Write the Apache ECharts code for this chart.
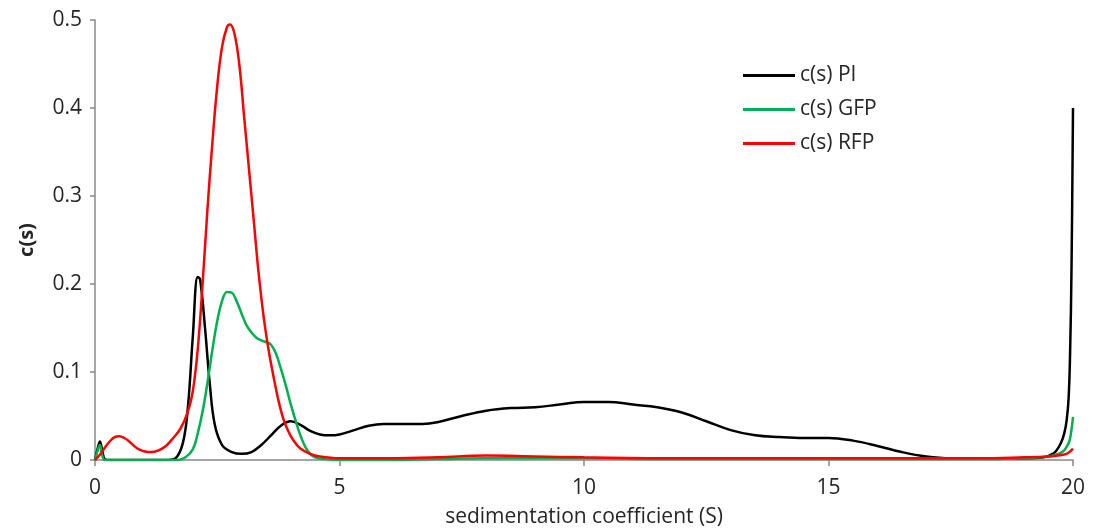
<!DOCTYPE html>
<html>
<head>
<meta charset="utf-8">
<script src="https://cdn.jsdelivr.net/npm/echarts@6/dist/echarts.min.js"></script>
<style>
html,body{margin:0;padding:0;background:#fff;}
#chart{width:1098px;height:529px;}
</style>
</head>
<body>
<div id="chart"></div>
<script>
const seriesNames = ['c(s) PI', 'c(s) GFP', 'c(s) RFP'];
const xTitle = 'sedimentation coefficient (S)';
const yTitle = 'c(s)';

const piData = [[0,0],[0.05,0.012],[0.1,0.021],[0.15,0.01],[0.2,0.001],[0.3,0],[1.5,0],[1.65,0.002],[1.8,0.02],[1.9,0.06],[2.0,0.14],[2.1,0.208],[2.15,0.205],[2.25,0.15],[2.35,0.085],[2.45,0.04],[2.6,0.017],[2.8,0.009],[3.0,0.007],[3.2,0.009],[3.4,0.017],[3.6,0.028],[3.8,0.039],[4.0,0.044],[4.2,0.04],[4.4,0.033],[4.6,0.029],[4.8,0.028],[5.0,0.029],[5.3,0.034],[5.6,0.039],[5.9,0.041],[6.3,0.041],[6.7,0.041],[7.0,0.043],[7.5,0.05],[8.0,0.056],[8.5,0.059],[9.0,0.06],[9.5,0.063],[10.0,0.066],[10.5,0.066],[11.0,0.063],[11.5,0.06],[12.0,0.054],[12.5,0.044],[13.0,0.034],[13.5,0.028],[14.0,0.026],[14.5,0.025],[15.0,0.025],[15.5,0.022],[16.0,0.016],[16.5,0.009],[17.0,0.004],[17.5,0.002],[18,0.002],[19,0.002],[19.4,0.003],[19.55,0.006],[19.65,0.010],[19.75,0.019],[19.82,0.03],[19.87,0.045],[19.91,0.07],[19.94,0.12],[19.97,0.22],[20,0.40]];

const gfpData = [[0,0],[0.05,0.01],[0.1,0.017],[0.15,0.005],[0.2,0],[1.7,0],[1.85,0.003],[2.0,0.012],[2.1,0.03],[2.2,0.055],[2.3,0.088],[2.4,0.125],[2.5,0.158],[2.6,0.181],[2.7,0.191],[2.8,0.19],[2.9,0.18],[3.0,0.166],[3.1,0.153],[3.2,0.145],[3.3,0.139],[3.4,0.136],[3.5,0.134],[3.6,0.131],[3.7,0.121],[3.8,0.104],[3.9,0.085],[4.0,0.064],[4.1,0.045],[4.2,0.028],[4.3,0.015],[4.4,0.007],[4.5,0.003],[4.7,0.001],[5,0],[6,0],[7,0.001],[8,0.002],[10,0.002],[12,0.001],[15,0.001],[18,0.001],[19,0.002],[19.5,0.004],[19.7,0.007],[19.8,0.01],[19.87,0.015],[19.93,0.022],[19.97,0.035],[20,0.049]];

const rfpData = [[0,0],[0.1,0.006],[0.2,0.014],[0.3,0.021],[0.4,0.026],[0.5,0.027],[0.6,0.025],[0.7,0.021],[0.8,0.016],[0.9,0.012],[1.0,0.01],[1.15,0.009],[1.3,0.011],[1.45,0.016],[1.6,0.025],[1.75,0.036],[1.9,0.055],[2.0,0.078],[2.1,0.125],[2.2,0.2],[2.3,0.285],[2.4,0.36],[2.5,0.425],[2.6,0.47],[2.7,0.492],[2.76,0.495],[2.85,0.485],[2.95,0.45],[3.05,0.39],[3.15,0.33],[3.25,0.27],[3.35,0.21],[3.45,0.162],[3.55,0.125],[3.65,0.095],[3.75,0.068],[3.85,0.047],[3.95,0.033],[4.05,0.023],[4.2,0.013],[4.4,0.007],[4.6,0.004],[5,0.002],[6,0.002],[7,0.003],[8,0.005],[9,0.004],[10,0.003],[12,0.002],[15,0.002],[18,0.002],[19,0.003],[19.5,0.004],[19.8,0.006],[19.9,0.008],[20,0.013]];

const FONT = 'Open Sans';
const TXT = '#262626';
const chart = echarts.init(document.getElementById('chart'), null, {renderer:'canvas'});
const mk = (name, data, color) => ({
  name, type:'line', data, showSymbol:false, smooth:0.4,
  lineStyle:{color, width:2.5}, itemStyle:{color}, animation:false
});
chart.setOption({
  animation:false,
  backgroundColor:'#fff',
  grid:{left:95, right:25, top:20, bottom:69, containLabel:false, outerBoundsMode:'none'},
  legend:{
    orient:'vertical', left:738, top:60, icon:'rect', itemWidth:52, itemHeight:3, itemGap:13,
    textStyle:{fontFamily:FONT, fontSize:21, color:TXT},
    data:seriesNames
  },
  xAxis:{
    type:'value', min:0, max:20, interval:5,
    name:xTitle, nameLocation:'middle', nameGap:47,
    nameTextStyle:{fontFamily:FONT, fontSize:21, color:TXT},
    axisLine:{lineStyle:{color:'#888', width:1.5}},
    axisTick:{show:true, length:6, lineStyle:{color:'#888', width:1.5}},
    axisLabel:{fontFamily:FONT, fontSize:21, color:TXT, margin:18},
    splitLine:{show:false}
  },
  yAxis:{
    type:'value', min:0, max:0.5, interval:0.1,
    name:yTitle, nameLocation:'middle', nameGap:58,
    nameTextStyle:{fontFamily:FONT, fontSize:20, fontWeight:'bold', color:TXT},
    axisLine:{show:true, lineStyle:{color:'#888', width:1.5}},
    axisTick:{show:true, length:5, lineStyle:{color:'#888', width:1.5}},
    axisLabel:{fontFamily:FONT, fontSize:21, color:TXT, margin:13},
    splitLine:{show:false}
  },
  series:[
    mk(seriesNames[0], piData, '#000000'),
    mk(seriesNames[1], gfpData, '#00B050'),
    mk(seriesNames[2], rfpData, '#FF0000')
  ]
});
</script>
</body>
</html>
